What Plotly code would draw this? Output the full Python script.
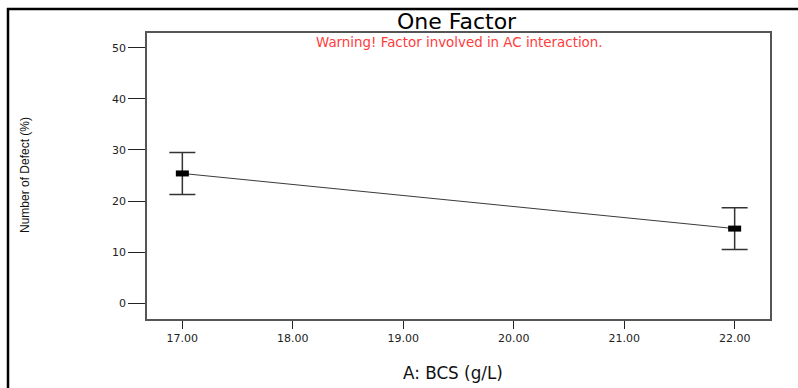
import plotly.graph_objects as go

# Data
bcs = [17.0, 22.0]
defect = [25.4, 14.6]
err = [4.1, 4.1]
x_ticks = [17, 18, 19, 20, 21, 22]
x_tick_labels = ["17.00", "18.00", "19.00", "20.00", "21.00", "22.00"]
y_ticks = [0, 10, 20, 30, 40, 50]

W, H = 798, 388
L, R, T, B = 147, 28, 33, 69
pw, ph = W - L - R, H - T - B

def px(xp):
    return (xp - L) / pw

def py(yp):
    return (H - B - yp) / ph

fig = go.Figure()
fig.add_trace(go.Scatter(
    x=bcs, y=defect, mode="lines+markers",
    line=dict(color="#3a3a3a", width=1),
    marker=dict(symbol="line-ew", size=9.3, color="black",
                line=dict(color="black", width=6)),
    error_y=dict(type="data", array=err, visible=True,
                 color="#333333", thickness=1.5, width=13),
    showlegend=False,
))

font_main = "DejaVu Sans, Arial, sans-serif"

fig.update_layout(
    width=W, height=H,
    margin=dict(l=L, r=R, t=T, b=B),
    paper_bgcolor="white", plot_bgcolor="white",
    xaxis=dict(
        range=[16.68, 22.32], tickvals=x_ticks, ticktext=x_tick_labels,
        showgrid=False, zeroline=False, showline=True, linecolor="#555555",
        linewidth=1.5, mirror=True, ticks="outside", ticklen=8,
        tickcolor="#222222", tickwidth=1,
        tickfont=dict(family=font_main, size=11, color="#222222"),
    ),
    yaxis=dict(
        range=[-3.1, 52.9], tickvals=y_ticks,
        showgrid=False, zeroline=False, showline=True, linecolor="#555555",
        linewidth=1.5, mirror=True, ticks="outside", ticklen=17,
        tickcolor="#222222", tickwidth=1,
        tickfont=dict(family=font_main, size=11, color="#222222"),
    ),
    annotations=[
        dict(text="One Factor", x=px(457), y=py(21), xref="paper", yref="paper",
             showarrow=False, xanchor="center", yanchor="middle",
             font=dict(family=font_main, size=22, color="black")),
        dict(text="Warning! Factor involved in AC interaction.", x=px(459.5), y=py(42.5),
             xref="paper", yref="paper", showarrow=False,
             xanchor="center", yanchor="middle",
             font=dict(family=font_main, size=13.4, color="#ff3b3b")),
        dict(text="A: BCS (g/L)", x=px(453), y=py(373), xref="paper", yref="paper",
             showarrow=False, xanchor="center", yanchor="middle",
             font=dict(family=font_main, size=16.8, color="#111111")),
        dict(text="Number of Defect (%)", x=px(25), y=py(175), xref="paper", yref="paper",
             showarrow=False, xanchor="center", yanchor="middle", textangle=-90,
             font=dict(family="Arial, Liberation Sans, sans-serif",
                       size=12, color="#111111")),
    ],
    shapes=[
        dict(type="line", xref="paper", yref="paper", x0=px(7), x1=px(800),
             y0=py(9), y1=py(9), line=dict(color="black", width=2.5)),
        dict(type="line", xref="paper", yref="paper", x0=px(8), x1=px(8),
             y0=py(8), y1=py(392), line=dict(color="black", width=2.5)),
    ],
)

fig.write_html("out.html")
